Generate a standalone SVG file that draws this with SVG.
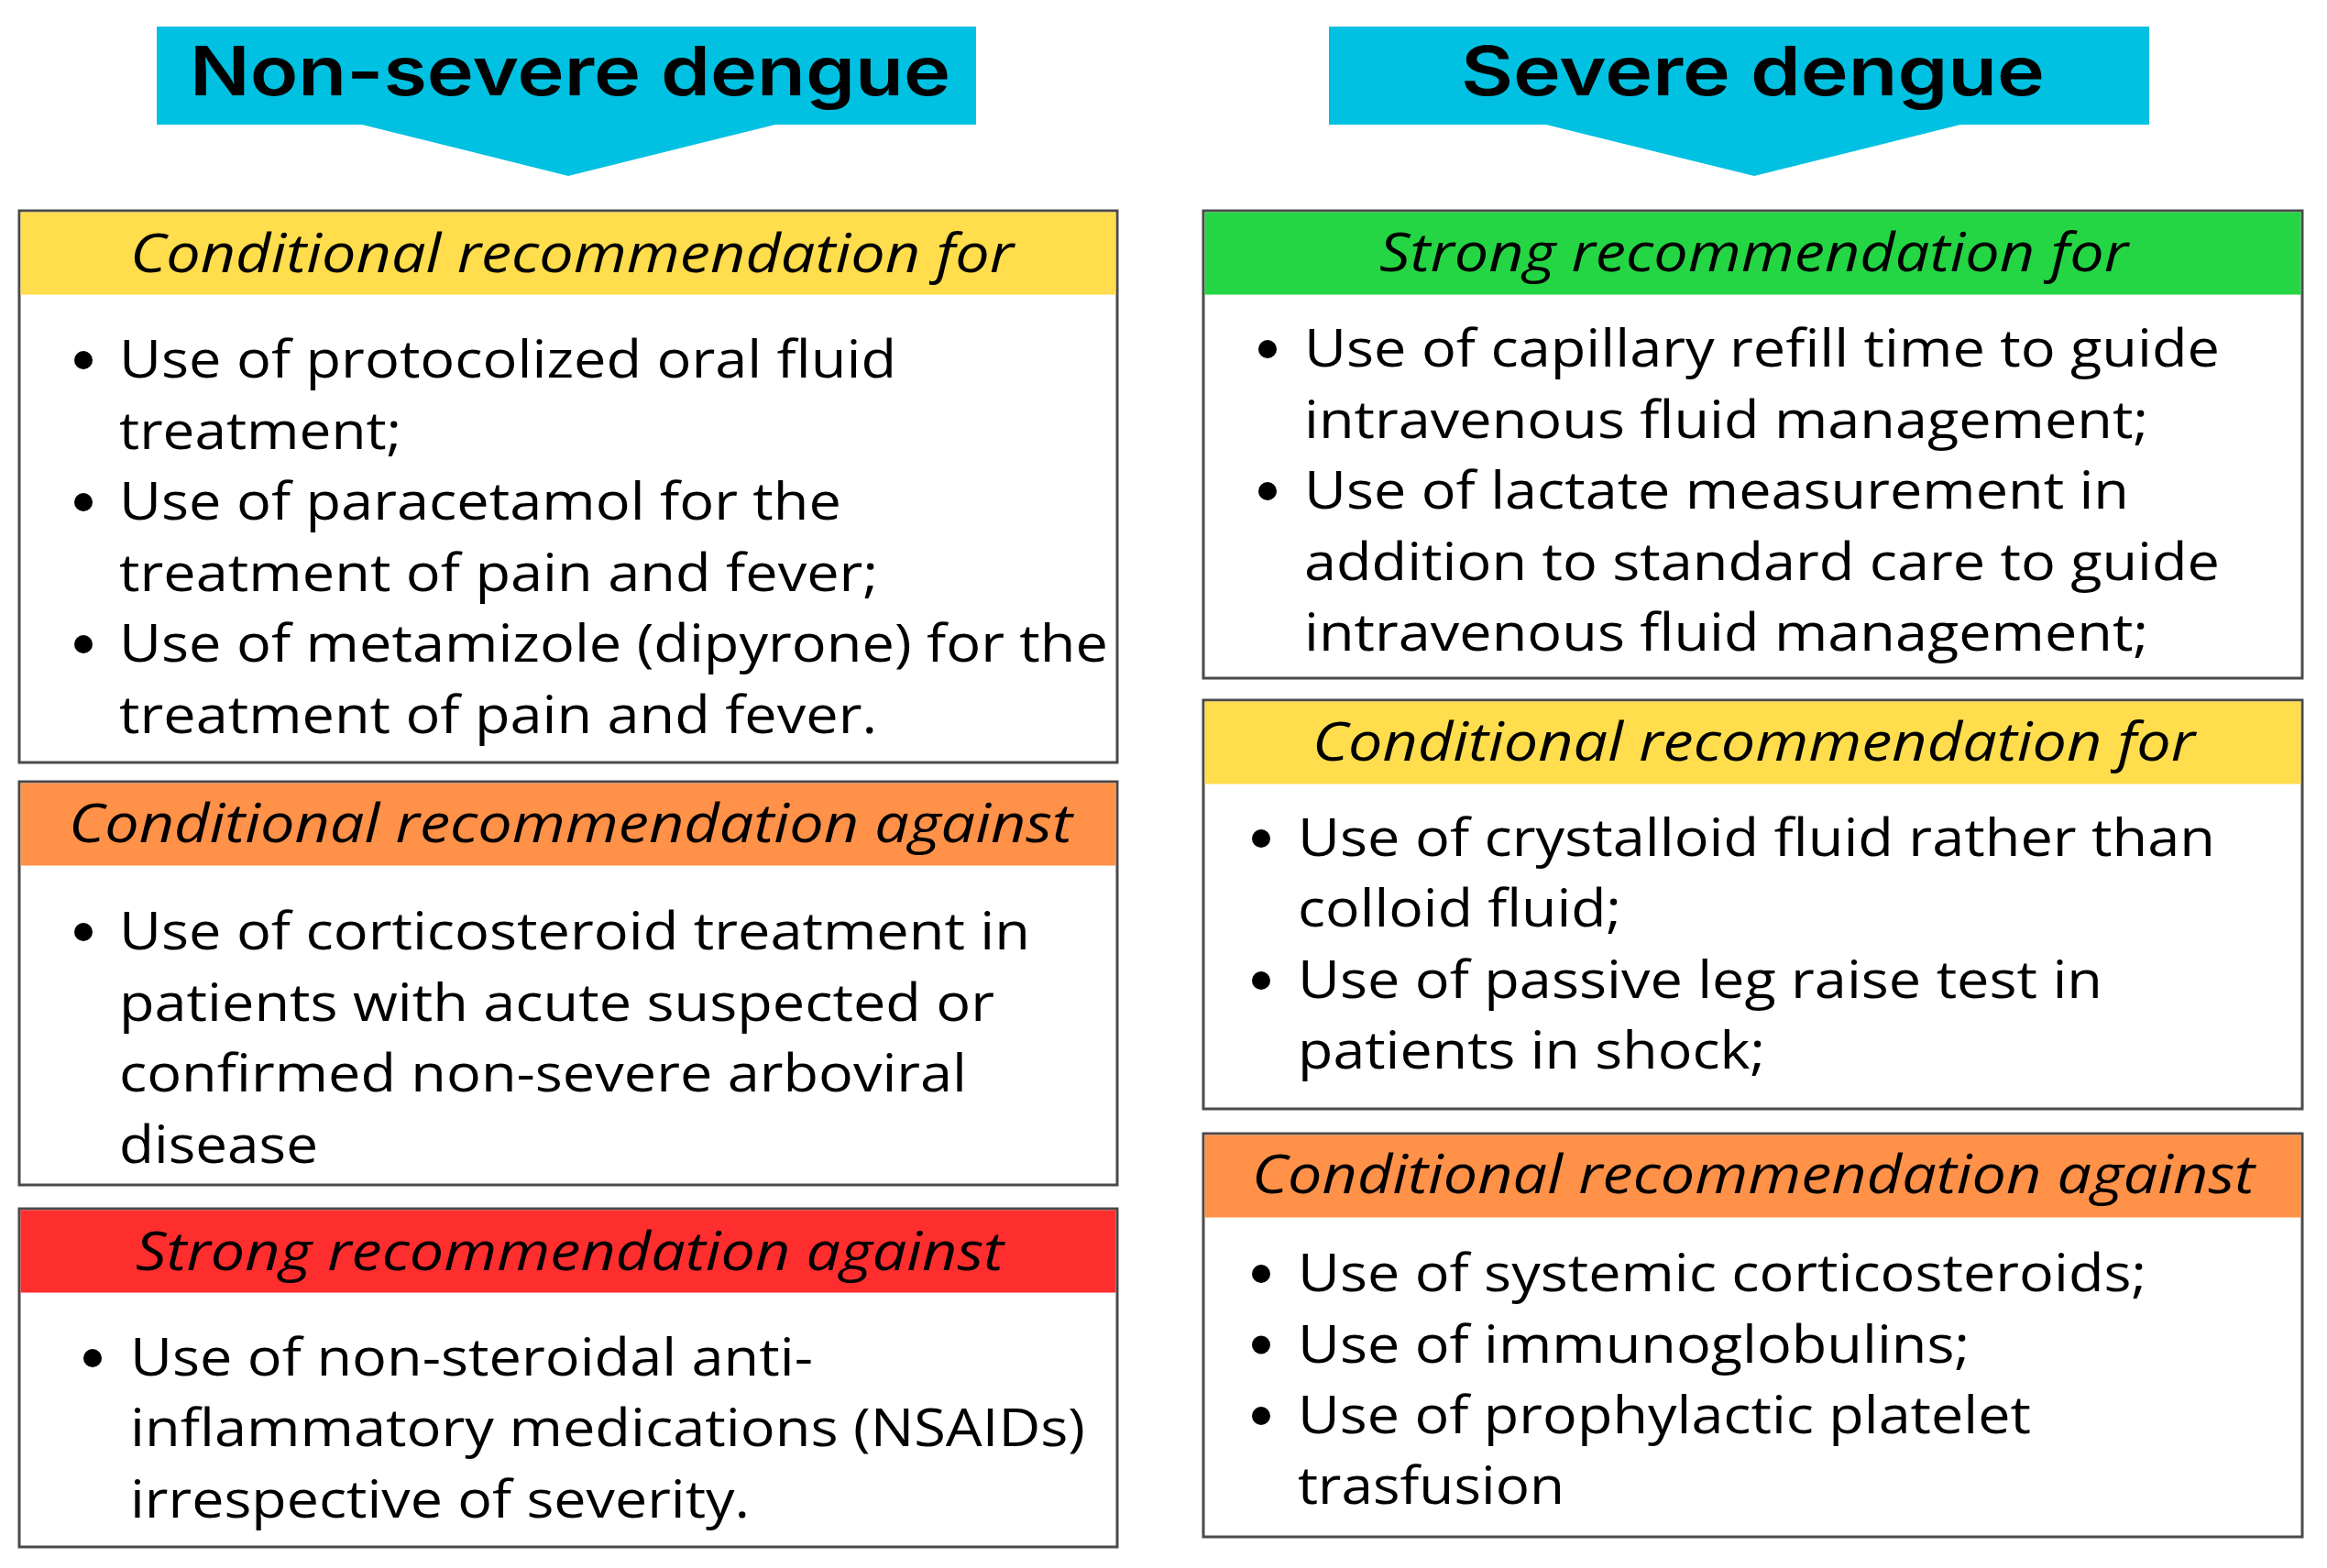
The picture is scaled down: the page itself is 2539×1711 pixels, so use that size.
<svg xmlns="http://www.w3.org/2000/svg" width="2539" height="1711" viewBox="0 0 2539 1711">
<style>
.banner{fill:#00C1E1}
.title{font-family:Inter,"Liberation Sans",sans-serif;font-weight:600;font-size:74px;fill:#000}
.box{fill:#fff;stroke:#4a4a4a;stroke-width:3}
.hd{font-family:"Open Sans","Liberation Sans",sans-serif;font-style:italic;font-size:58px;fill:#000}
.tx{font-family:"Open Sans","Liberation Sans",sans-serif;font-size:56px;fill:#000}
.yel{fill:#FFDD4C}.org{fill:#FF9148}.red{fill:#FF2E2E}.grn{fill:#25D644}
.bul{fill:#000}
</style>
<rect width="2539" height="1711" fill="#fff"/>
<g id="banner-nonsevere">
<polygon class="banner" points="171,29 1065,29 1065,136 846,136 620,192 395,136 171,136"/>
<text class="title" x="207" y="104" textLength="830" lengthAdjust="spacingAndGlyphs">Non-severe dengue</text>
</g>
<g id="banner-severe">
<polygon class="banner" points="1450,29 2345,29 2345,136 2139,136 1914,192 1687,136 1450,136"/>
<text class="title" x="1594" y="104" textLength="637" lengthAdjust="spacingAndGlyphs">Severe dengue</text>
</g>
<g id="connectors"/>
<g id="ns-conditional-for">
<rect class="box" x="21" y="230" width="1198" height="602"/>
<rect class="yel" x="22.5" y="231.5" width="1195" height="90"/>
<text class="hd" x="142" y="297" textLength="964" lengthAdjust="spacingAndGlyphs">Conditional recommendation for</text>
<circle class="bul" cx="91" cy="393" r="10"/>
<circle class="bul" cx="91" cy="548" r="10"/>
<circle class="bul" cx="91" cy="703" r="10"/>
<text class="tx" x="130" y="412" textLength="848" lengthAdjust="spacingAndGlyphs">Use of protocolized oral fluid</text>
<text class="tx" x="130" y="489.5" textLength="308" lengthAdjust="spacingAndGlyphs">treatment;</text>
<text class="tx" x="130" y="567" textLength="788" lengthAdjust="spacingAndGlyphs">Use of paracetamol for the</text>
<text class="tx" x="130" y="644.5" textLength="828" lengthAdjust="spacingAndGlyphs">treatment of pain and fever;</text>
<text class="tx" x="130" y="722" textLength="1079" lengthAdjust="spacingAndGlyphs">Use of metamizole (dipyrone) for the</text>
<text class="tx" x="130" y="799.5" textLength="827" lengthAdjust="spacingAndGlyphs">treatment of pain and fever.</text>
</g>
<g id="ns-conditional-against">
<rect class="box" x="21" y="853" width="1198" height="440"/>
<rect class="org" x="22.5" y="854.5" width="1195" height="90"/>
<text class="hd" x="75" y="919" textLength="1095" lengthAdjust="spacingAndGlyphs">Conditional recommendation against</text>
<circle class="bul" cx="91" cy="1017" r="10"/>
<text class="tx" x="130" y="1036" textLength="994" lengthAdjust="spacingAndGlyphs">Use of corticosteroid treatment in</text>
<text class="tx" x="130" y="1113.5" textLength="955" lengthAdjust="spacingAndGlyphs">patients with acute suspected or</text>
<text class="tx" x="130" y="1191" textLength="925" lengthAdjust="spacingAndGlyphs">confirmed non-severe arboviral</text>
<text class="tx" x="130" y="1268.5" textLength="217" lengthAdjust="spacingAndGlyphs">disease</text>
</g>
<g id="ns-strong-against">
<rect class="box" x="21" y="1319" width="1198" height="369"/>
<rect class="red" x="22.5" y="1320.5" width="1195" height="90"/>
<text class="hd" x="148" y="1386" textLength="947" lengthAdjust="spacingAndGlyphs">Strong recommendation against</text>
<circle class="bul" cx="101" cy="1482" r="10"/>
<text class="tx" x="142" y="1501" textLength="745" lengthAdjust="spacingAndGlyphs">Use of non-steroidal anti-</text>
<text class="tx" x="142" y="1578" textLength="1042" lengthAdjust="spacingAndGlyphs">inflammatory medications (NSAIDs)</text>
<text class="tx" x="142" y="1656" textLength="676" lengthAdjust="spacingAndGlyphs">irrespective of severity.</text>
</g>
<g id="s-strong-for">
<rect class="box" x="1313" y="230" width="1199" height="510"/>
<rect class="grn" x="1314.5" y="231.5" width="1196" height="90"/>
<text class="hd" x="1505" y="296" textLength="817" lengthAdjust="spacingAndGlyphs">Strong recommendation for</text>
<circle class="bul" cx="1383" cy="381" r="10"/>
<circle class="bul" cx="1383" cy="536" r="10"/>
<text class="tx" x="1423" y="400" textLength="999" lengthAdjust="spacingAndGlyphs">Use of capillary refill time to guide</text>
<text class="tx" x="1423" y="477.5" textLength="921" lengthAdjust="spacingAndGlyphs">intravenous fluid management;</text>
<text class="tx" x="1423" y="555" textLength="900" lengthAdjust="spacingAndGlyphs">Use of lactate measurement in</text>
<text class="tx" x="1423" y="632.5" textLength="999" lengthAdjust="spacingAndGlyphs">addition to standard care to guide</text>
<text class="tx" x="1423" y="710" textLength="921" lengthAdjust="spacingAndGlyphs">intravenous fluid management;</text>
</g>
<g id="s-conditional-for">
<rect class="box" x="1313" y="764" width="1199" height="446"/>
<rect class="yel" x="1314.5" y="765.5" width="1196" height="90"/>
<text class="hd" x="1432" y="830" textLength="963" lengthAdjust="spacingAndGlyphs">Conditional recommendation for</text>
<circle class="bul" cx="1376" cy="915" r="10"/>
<circle class="bul" cx="1376" cy="1070" r="10"/>
<text class="tx" x="1416" y="934" textLength="1001" lengthAdjust="spacingAndGlyphs">Use of crystalloid fluid rather than</text>
<text class="tx" x="1416" y="1011" textLength="353" lengthAdjust="spacingAndGlyphs">colloid fluid;</text>
<text class="tx" x="1416" y="1089" textLength="878" lengthAdjust="spacingAndGlyphs">Use of passive leg raise test in</text>
<text class="tx" x="1416" y="1166" textLength="510" lengthAdjust="spacingAndGlyphs">patients in shock;</text>
</g>
<g id="s-conditional-against">
<rect class="box" x="1313" y="1237" width="1199" height="440"/>
<rect class="org" x="1314.5" y="1238.5" width="1196" height="90"/>
<text class="hd" x="1366" y="1302" textLength="1094" lengthAdjust="spacingAndGlyphs">Conditional recommendation against</text>
<circle class="bul" cx="1376" cy="1390" r="10"/>
<circle class="bul" cx="1376" cy="1467.5" r="10"/>
<circle class="bul" cx="1376" cy="1545" r="10"/>
<text class="tx" x="1416" y="1409" textLength="926" lengthAdjust="spacingAndGlyphs">Use of systemic corticosteroids;</text>
<text class="tx" x="1416" y="1486.5" textLength="733" lengthAdjust="spacingAndGlyphs">Use of immunoglobulins;</text>
<text class="tx" x="1416" y="1564" textLength="800" lengthAdjust="spacingAndGlyphs">Use of prophylactic platelet</text>
<text class="tx" x="1416" y="1641" textLength="291" lengthAdjust="spacingAndGlyphs">trasfusion</text>
</g>
</svg>
